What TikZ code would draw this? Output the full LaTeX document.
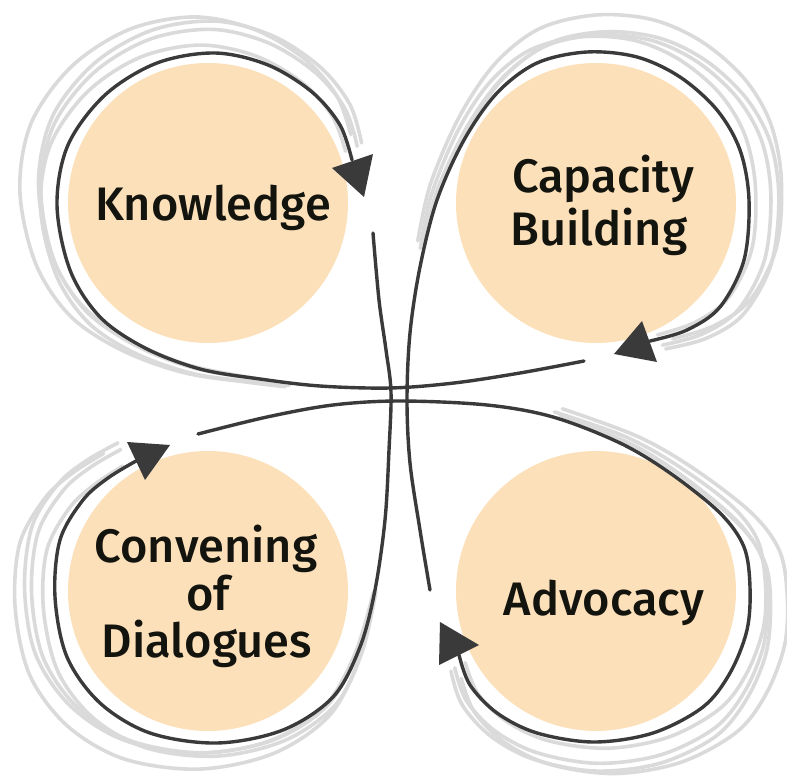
\documentclass[tikz,border=0pt]{standalone}
\usepackage{fontspec}
\newfontfamily\lblfont{Fira Sans Medium}
\definecolor{peach}{RGB}{252,224,186}
\definecolor{ink}{RGB}{58,58,58}
\definecolor{sketch}{RGB}{218,218,218}
\definecolor{txt}{RGB}{20,20,15}
\tikzset{
  circ/.style={circle, fill=peach, minimum size=280pt, inner sep=0pt},
  lbl/.style={font=\lblfont\fontsize{47}{50}\selectfont, text=txt, anchor=base, inner sep=0pt},
  loopline/.style={draw=ink, line width=3.4pt, line cap=round, line join=round},
  sketchline/.style={draw=sketch, line width=3.6pt, line cap=round, line join=round},
  head/.style={fill=ink},
}
\newcommand\Kpath{plot[smooth,tension=0.55] coordinates {(584,361) (520,373) (454,383) (390,388) (320,386) (260,379) (200,369) (145,348) (100,317) (70,270) (57,205) (68,145) (105,95) (157,63) (215,53) (268,65) (312,92) (340,125) (352,160)}}
\newcommand\Vpath{plot[smooth,tension=0.55] coordinates {(373,233) (379,300) (386,350) (391,392) (389,450) (385,520) (375,590) (360,647) (333,697) (283,730) (217,743) (150,733) (100,703) (67,657) (55,597) (60,540) (83,500) (108,478) (136,461)}}
\newcommand\Apath{plot[smooth,tension=0.55] coordinates {(198,434) (267,417) (333,405) (400,401) (487,405) (553,417) (620,443) (670,473) (720,513) (744,547) (750,587) (747,630) (730,673) (703,707) (653,733) (594,742) (537,733) (497,713) (470,685) (459,655)}}
\newcommand\Cpath{plot[smooth,tension=0.55] coordinates {(430,590) (420,530) (410,463) (407,400) (410,333) (420,267) (437,200) (464,140) (497,93) (537,63) (587,52) (637,57) (680,77) (717,110) (740,150) (749,200) (744,260) (720,307) (687,330) (650,341)}}
\newcommand\Kgray{plot[smooth,tension=0.55] coordinates {(290,383) (260,379) (200,369) (145,348) (100,317) (70,270) (57,205) (68,145) (105,95) (157,63) (215,53) (268,65) (312,92) (340,125) (352,160)}}
\newcommand\Vgray{plot[smooth,tension=0.55] coordinates {(375,590) (360,647) (333,697) (283,730) (217,743) (150,733) (100,703) (67,657) (55,597) (60,540) (83,500) (108,478) (136,461)}}
\newcommand\Agray{plot[smooth,tension=0.55] coordinates {(553,417) (620,443) (670,473) (720,513) (744,547) (750,587) (747,630) (730,673) (703,707) (653,733) (594,742) (537,733) (497,713) (470,685) (459,655)}}
\newcommand\Cgray{plot[smooth,tension=0.55] coordinates {(425,250) (437,200) (464,140) (497,93) (537,63) (587,52) (637,57) (680,77) (717,110) (740,150) (749,200) (744,260) (720,307) (687,330) (650,341)}}
\begin{document}
\begin{tikzpicture}[x=1pt,y=-1pt]
\useasboundingbox (0,0) rectangle (787,781);
% circles
\node[circ] (know) at (208,203) {};
\node[circ] (cap) at (596,203) {};
\node[circ] (conv) at (208,591) {};
\node[circ] (adv) at (596,591) {};
% sketch strokes
\foreach \s/\r in {1.04/2, 1.07/-1, 1.09/-2, 1.125/1} {
  \draw[sketchline, scale around={\s:(330,360)}, rotate around={\r:(330,360)}] \Kgray;
  \draw[sketchline, scale around={\s:(470,330)}, rotate around={\r:(470,330)}] \Cgray;
  \draw[sketchline, scale around={\s:(380,560)}, rotate around={\r:(380,560)}] \Vgray;
  \draw[sketchline, scale around={\s:(470,470)}, rotate around={\r:(470,470)}] \Agray;
}
% black loops
\draw[loopline] \Kpath;
\draw[loopline] \Vpath;
\draw[loopline] \Apath;
\draw[loopline] \Cpath;
% arrowheads
\fill[head] (332,168) -- (373,154) -- (364,197) -- cycle;
\fill[head] (642,321) -- (657,362) -- (614,354) -- cycle;
\fill[head] (127,442) -- (145,480) -- (170,445) -- cycle;
\fill[head] (479,645) -- (439,665) -- (440,622) -- cycle;
% labels
\node[lbl] (tk) at (213,220) {Knowledge};
\node[lbl] (tc1) at (603,192) {Capacity};
\node[lbl] (tc2) at (599,245) {Building};
\node[lbl] (tv1) at (206,562) {Convening};
\node[lbl] (tv2) at (208,610) {of};
\node[lbl] (tv3) at (207,657) {Dialogues};
\node[lbl] (ta) at (604,615) {Advocacy};
\end{tikzpicture}
\end{document}
